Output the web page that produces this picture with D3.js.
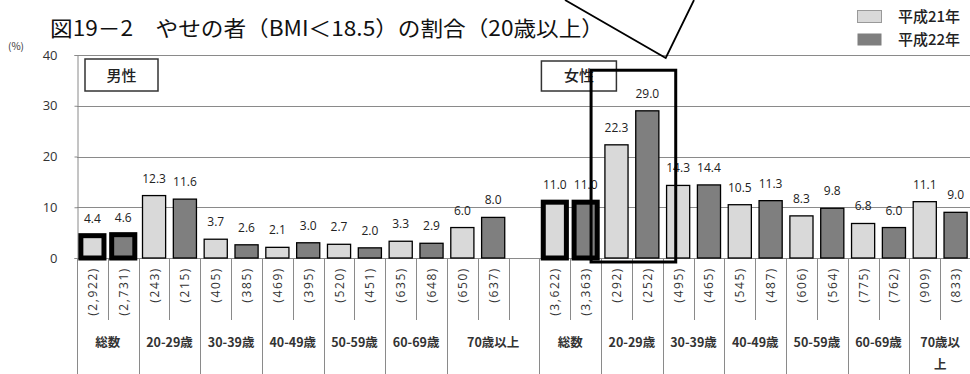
<!DOCTYPE html>
<html><head><meta charset="utf-8">
<script src="https://cdn.jsdelivr.net/npm/d3@7/dist/d3.min.js"></script>
<style>
html,body{margin:0;padding:0;background:#fff;}
svg{display:block;}
</style></head>
<body>
<svg id="c" width="970" height="374"></svg>
<script>
// ---- data ----
const title = "図19－2　やせの者（BMI＜18.5）の割合（20歳以上）";
const categories = ["総数","20-29歳","30-39歳","40-49歳","50-59歳","60-69歳","70歳以上"];
const sexes = ["男性","女性"];
const seriesNames = ["平成21年","平成22年"];
const maleH21 = [4.4, 12.3, 3.7, 2.1, 2.7, 3.3, 6.0];
const maleH22 = [4.6, 11.6, 2.6, 3.0, 2.0, 2.9, 8.0];
const femaleH21 = [11.0, 22.3, 14.3, 10.5, 8.3, 6.8, 11.1];
const femaleH22 = [11.0, 29.0, 14.4, 11.3, 9.8, 6.0, 9.0];
const maleN21 = ["2,922","243","405","469","520","635","650"];
const maleN22 = ["2,731","215","385","395","451","648","637"];
const femaleN21 = ["3,622","292","495","545","606","775","909"];
const femaleN22 = ["3,363","252","465","487","564","762","833"];
const yTicks = [0, 10, 20, 30, 40];

// ---- build slots ----
const values = {男性: [maleH21, maleH22], 女性: [femaleH21, femaleH22]};
const counts = {男性: [maleN21, maleN22], 女性: [femaleN21, femaleN22]};
const slots = [];
const groups = [];
sexes.forEach((s, si) => {
  categories.forEach((c, gi) => {
    const g = {sex: s, cat: c, gi, slots: []};
    seriesNames.forEach((n, k) => {
      const id = `${s}|${gi}|${k}`;
      slots.push({id, sex: s, gi, k, value: values[s][k][gi], n: counts[s][k][gi], total: gi === 0});
      g.slots.push(id);
    });
    if (si === 0 && gi === categories.length - 1) {
      const id = `${s}|${gi}|blank`;
      slots.push({id, blank: true});
      g.slots.push(id);
    }
    groups.push(g);
  });
});

const svg = d3.select("#c");
const fill = ["#d9d9d9", "#7f7f7f"];
const numFont = "'Open Sans', 'Noto Sans', sans-serif";
const jpFont = "'Noto Sans CJK JP', sans-serif";

const x = d3.scaleBand().domain(slots.map(d => d.id)).range([77, 971]).padding(0);
const y = d3.scaleLinear().domain([0, 40]).range([258, 55]);
const bw = x.bandwidth() * 0.75;
const gridColor = "#8a8a8a";

// gridlines
svg.append("g").selectAll("line").data(yTicks).join("line")
  .attr("x1", 77).attr("x2", 971)
  .attr("y1", d => Math.round(y(d)) + 0.5).attr("y2", d => Math.round(y(d)) + 0.5)
  .attr("stroke", gridColor).attr("stroke-width", 1);

// y axis
const yAxis = svg.append("g").attr("transform", "translate(77.5,0)")
  .call(d3.axisLeft(y).tickValues(yTicks).tickSize(3).tickPadding(17).tickFormat(d3.format("d")));
yAxis.select(".domain").attr("stroke", gridColor);
yAxis.selectAll(".tick line").attr("stroke", gridColor);
yAxis.selectAll(".tick text").attr("font-family", numFont).attr("font-size", 13).attr("fill", "#333");

svg.append("text").attr("x", 8).attr("y", 50).text("(%)")
  .attr("font-family", jpFont).attr("font-size", 10).attr("fill", "#333");

// label area lines
const bottom = 374;
groups.forEach(g => {
  const x0 = x(g.slots[0]);
  svg.append("line").attr("x1", Math.round(x0) + 0.5).attr("x2", Math.round(x0) + 0.5)
    .attr("y1", y(0)).attr("y2", bottom).attr("stroke", gridColor);
  g.slots.slice(1).forEach(id => {
    const xi = Math.round(x(id)) + 0.5;
    svg.append("line").attr("x1", xi).attr("x2", xi)
      .attr("y1", y(0)).attr("y2", 320).attr("stroke", gridColor);
  });
});
{
  const last = groups[groups.length - 1];
  const xe = x(last.slots[last.slots.length - 1]) + x.bandwidth();
  svg.append("line").attr("x1", xe - 0.5).attr("x2", xe - 0.5).attr("y1", y(0)).attr("y2", bottom).attr("stroke", gridColor);
}

// bars
const bars = slots.filter(d => !d.blank);
svg.append("g").selectAll("rect").data(bars).join("rect")
  .attr("x", d => x(d.id) + (x.bandwidth() - bw) / 2)
  .attr("width", bw)
  .attr("y", d => y(d.value))
  .attr("height", d => y(0) - y(d.value))
  .attr("fill", d => fill[d.k])
  .attr("stroke", "#000")
  .attr("stroke-width", d => d.total ? 5 : 1.3);

// value labels
svg.append("g").selectAll("text").data(bars).join("text")
  .attr("x", d => x(d.id) + x.bandwidth() / 2)
  .attr("y", d => y(d.value) - 13)
  .attr("text-anchor", "middle")
  .attr("font-family", numFont).attr("font-size", 12).attr("fill", "#222")
  .text(d => d.value.toFixed(1));

// sample counts (rotated)
svg.append("g").selectAll("text").data(bars).join("text")
  .attr("transform", d => `translate(${x(d.id) + x.bandwidth() / 2 + 4.5},267) rotate(-90)`)
  .attr("text-anchor", "end")
  .attr("font-family", numFont).attr("font-size", 12).attr("fill", "#333")
  .attr("letter-spacing", "1.6px")
  .text(d => `(${d.n})`);

// category labels
groups.forEach(g => {
  const x0 = x(g.slots[0]);
  const x1 = x(g.slots[g.slots.length - 1]) + x.bandwidth();
  const cx = (x0 + x1) / 2;
  const t = svg.append("text").attr("x", cx).attr("y", 347)
    .attr("text-anchor", "middle").attr("font-family", jpFont)
    .attr("font-size", 12.5).attr("font-weight", 700).attr("fill", "#333");
  if (g.sex === "女性" && g.gi === categories.length - 1) {
    t.append("tspan").attr("x", cx).attr("dy", 0).text(g.cat.slice(0, 4));
    t.append("tspan").attr("x", cx).attr("dy", 22).text(g.cat.slice(4));
  } else {
    t.text(g.cat);
  }
});

// sex label boxes
const sexBox = [{s: "男性", id: `男性|0|0`, dx: 8, w: 73, y0: 59}, {s: "女性", id: `女性|0|0`, dx: 2, w: 75, y0: 61}];
sexBox.forEach(b => {
  const bx = x(b.id) + b.dx;
  svg.append("rect").attr("x", bx).attr("y", b.y0).attr("width", b.w).attr("height", 91 - b.y0)
    .attr("fill", "#fff").attr("stroke", "#333").attr("stroke-width", 1.5);
  svg.append("text").attr("x", bx + b.w / 2).attr("y", 81).attr("text-anchor", "middle")
    .attr("font-family", jpFont).attr("font-size", 15).attr("font-weight", 500).attr("fill", "#222").text(b.s);
});

// callout highlight around women's 20-29
{
  const a = x(`女性|1|0`) - 10;
  const b = x(`女性|2|0`) + 13;
  svg.append("rect").attr("x", a).attr("y", y(37)).attr("width", b - a).attr("height", y(0) + 4 - y(37))
    .attr("fill", "none").attr("stroke", "#000").attr("stroke-width", 3);
  const vx = b - 10, vy = 58;
  svg.append("polyline").attr("points", `${565},0 ${vx},${vy} ${694},0`)
    .attr("fill", "none").attr("stroke", "#000").attr("stroke-width", 1.8);
}

// title
svg.append("text").attr("x", 50).attr("y", 36).text(title)
  .attr("font-family", jpFont).attr("font-size", 21).attr("font-weight", 400).attr("fill", "#111")
  .attr("textLength", 554).attr("lengthAdjust", "spacingAndGlyphs");

// legend
seriesNames.forEach((n, k) => {
  const ly = 10 + k * 23;
  svg.append("rect").attr("x", 857.5).attr("y", ly + 0.5).attr("width", 24).attr("height", 12)
    .attr("fill", fill[k]).attr("stroke", k === 0 ? "#999" : "none");
  svg.append("text").attr("x", 898).attr("y", ly + 12).text(n)
    .attr("font-family", jpFont).attr("font-size", 15).attr("font-weight", 500).attr("fill", "#222");
});
</script>
</body></html>
